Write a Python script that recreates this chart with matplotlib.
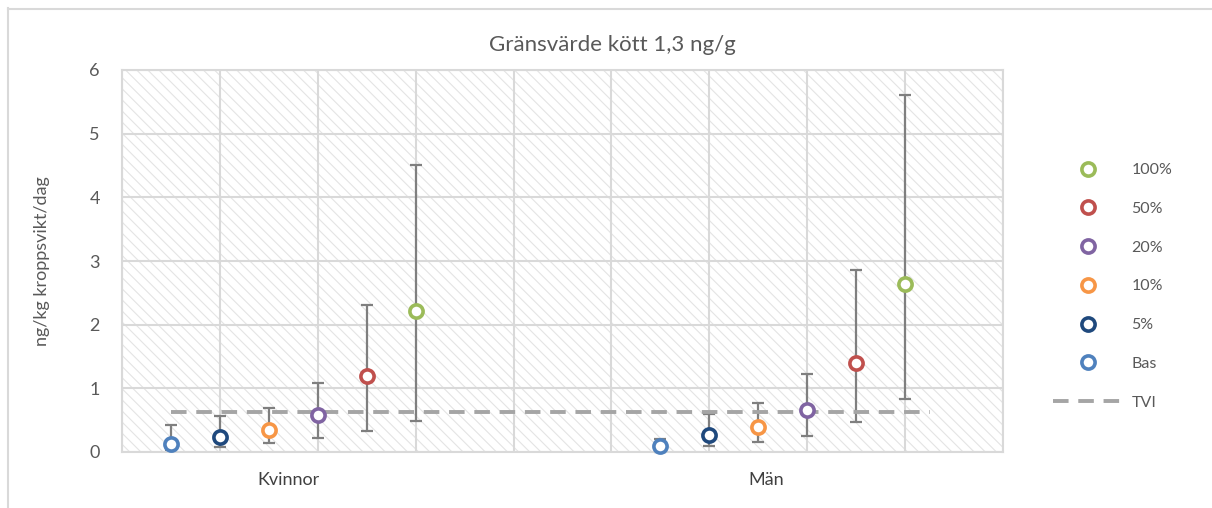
import matplotlib
matplotlib.use("Agg")
import matplotlib.pyplot as plt
from matplotlib.patches import Rectangle
from matplotlib.lines import Line2D
import numpy as np

plt.rcParams['font.family'] = ['Lato', 'DejaVu Sans']
plt.rcParams['hatch.linewidth'] = 0.8

# ---- data ----
categories = ["Kvinnor", "Män"]
series = ["Bas", "5%", "10%", "20%", "50%", "100%"]
colors = ["#4f81bd", "#1f497d", "#f79646", "#8064a2", "#c0504d", "#9bbb59"]

kv_mean = [0.12, 0.23, 0.35, 0.58, 1.20, 2.22]
kv_low = [0.01, 0.08, 0.14, 0.22, 0.33, 0.49]
kv_high = [0.43, 0.57, 0.69, 1.08, 2.31, 4.51]

man_mean = [0.09, 0.26, 0.40, 0.66, 1.40, 2.64]
man_low = [0.00, 0.09, 0.15, 0.25, 0.47, 0.83]
man_high = [0.21, 0.59, 0.77, 1.22, 2.86, 5.61]

tvi_value = 0.63
tvi_x = [0.5, 8.25]

title = "Gränsvärde kött 1,3 ng/g"
ylabel = "ng/kg kroppsvikt/dag"
yticks = [0, 1, 2, 3, 4, 5, 6]

# ---- figure ----
fig = plt.figure(figsize=(12.12, 5.08), dpi=100)
ax = fig.add_axes([122/1212, 56/508, 881/1212, 382/508])

ax.set_xlim(0, 9)
ax.set_ylim(0, 6)

# hatched background
bg = Rectangle((0, 0), 1, 1, transform=ax.transAxes, facecolor="white",
               edgecolor="#e4e4e4", hatch="\\\\\\", linewidth=0, zorder=0)
ax.add_patch(bg)

ax.set_xticks(np.arange(0, 10))
ax.set_yticks(yticks)
ax.grid(True, color="#d9d9d9", linewidth=1.5, zorder=1)
ax.set_axisbelow(True)
for s in ax.spines.values():
    s.set_color("#d9d9d9")
    s.set_linewidth(1.5)
ax.tick_params(axis="both", length=0, colors="#595959", labelsize=13)
ax.tick_params(axis="y", pad=16)
ax.set_xticklabels([])

grey = "#7f7f7f"
groups = [(kv_mean, kv_low, kv_high), (man_mean, man_low, man_high)]
group_start = [0, 5]
handles = {}
for g, (m, lo, hi) in enumerate(groups):
    for i, name in enumerate(series):
        x = group_start[g] + 0.5 * (i + 1)
        yerr = [[m[i] - lo[i]], [hi[i] - m[i]]]
        ax.errorbar([x], [m[i]], yerr=yerr, fmt="none", ecolor=grey,
                    elinewidth=1.6, capsize=4.5, capthick=1.6, zorder=2,
                    clip_on=False)
        h, = ax.plot([x], [m[i]], linestyle="none", marker="o", markersize=9.5,
                     markerfacecolor="white", markeredgecolor=colors[i],
                     markeredgewidth=2.6, zorder=4, clip_on=False)
        handles[name] = h

tvi, = ax.plot(tvi_x, [tvi_value, tvi_value], color="#a5a5a5", linewidth=2.8,
               dashes=(4, 2.5), zorder=3)

# category labels
cat_x = [1.70, 6.58]
for cx, c in zip(cat_x, categories):
    ax.text(cx, -0.44, c, ha="center", va="center", fontsize=13,
            color="#404040")

ax.set_ylabel(ylabel, fontsize=13, color="#595959", labelpad=28)

fig.text(612/1212, 1 - 45/508, title, ha="center", va="center",
         fontsize=16, color="#595959")

order = ["100%", "50%", "20%", "10%", "5%", "Bas"]
leg_handles = [handles[n] for n in order] + [tvi]
leg_labels = order + ["TVI"]
leg = fig.legend(leg_handles, leg_labels, loc="upper left",
                 bbox_to_anchor=(1045/1212, 1 - 155/508), frameon=False,
                 fontsize=11.5, labelcolor="#595959", handlelength=4.4,
                 handletextpad=0.5, labelspacing=1.54, borderpad=0)

# outer border
fig.add_artist(Line2D([7.5/1212, 7.5/1212], [0, 1 - 8/508], color="#d9d9d9",
                      linewidth=1.5, transform=fig.transFigure))
fig.add_artist(Line2D([7.5/1212, 1], [1 - 8.5/508, 1 - 8.5/508], color="#d9d9d9",
                      linewidth=1.5, transform=fig.transFigure))

fig.savefig("out.png", dpi=100, facecolor="white")
